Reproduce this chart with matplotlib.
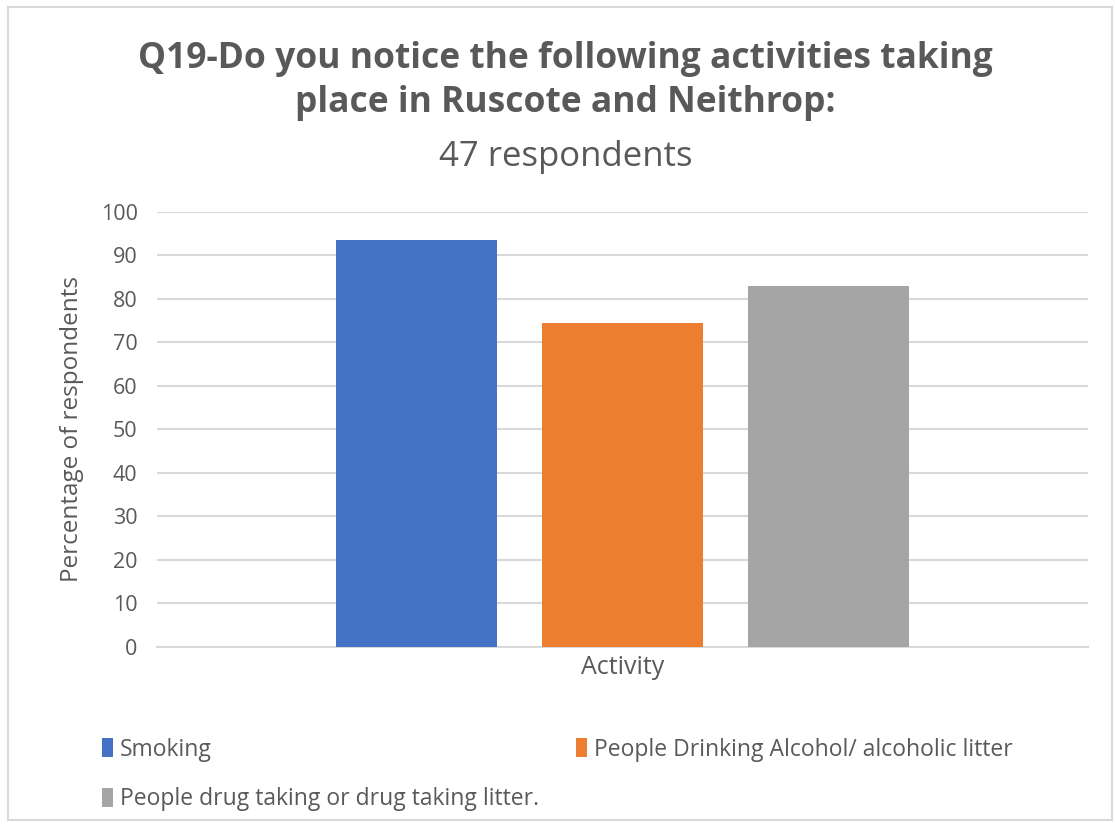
import matplotlib.pyplot as plt
from matplotlib.patches import Rectangle

activities = ["Smoking", "People Drinking Alcohol/ alcoholic litter",
              "People drug taking or drug taking litter."]
percent = [93.6, 74.5, 83.0]
colors = ["#4472C4", "#ED7D31", "#A5A5A5"]
yticks = [0, 10, 20, 30, 40, 50, 60, 70, 80, 90, 100]

plt.rcParams['font.family'] = ['Open Sans', 'DejaVu Sans']
txt = "#595959"

fig = plt.figure(figsize=(11.15, 8.27), dpi=100)
ax = fig.add_axes([0.1408, 0.2177, 0.835, 0.526])

xs = [-1, 0, 1]
bars = []
for x, v, c, name in zip(xs, percent, colors, activities):
    bars.append(ax.bar(x, v, width=0.786, color=c, label=name, zorder=3)[0])

ax.set_xlim(-2.26, 2.26)
ax.set_ylim(0, 100)
ax.set_yticks(yticks)
ax.set_xticks([])
ax.grid(axis='y', color="#d9d9d9", linewidth=1.5, zorder=0)
for s in ['top', 'right', 'left']:
    ax.spines[s].set_visible(False)
ax.spines['bottom'].set_color("#d9d9d9")
ax.spines['bottom'].set_linewidth(1.5)
ax.tick_params(axis='y', length=0, labelsize=15.5, labelcolor=txt, pad=14)

ax.set_ylabel("Percentage of respondents", fontsize=17.5, color=txt, labelpad=12)
ax.set_xlabel("Activity", fontsize=18, color=txt, labelpad=6)

fig.text(0.507, 0.902, "Q19-Do you notice the following activities taking\nplace in Ruscote and Neithrop:",
         ha='center', va='center', fontsize=25.5, fontweight='bold', color=txt, linespacing=1.32)
fig.text(0.507, 0.810, "47 respondents", ha='center', va='center', fontsize=25, color=txt)

# legend filled row by row
handles = [bars[0], bars[2], bars[1]]
labels = [activities[0], activities[2], activities[1]]
fig.legend(handles, labels, ncol=2, loc='upper left', bbox_to_anchor=(0.083, 0.119),
           frameon=False, fontsize=16.5, labelcolor=txt, handlelength=0.5, handleheight=0.9,
           handletextpad=0.3, columnspacing=1.6, labelspacing=1.1, borderaxespad=0)

fig.patches.append(Rectangle((0.007, 0.008), 0.99, 0.984, transform=fig.transFigure,
                             fill=False, edgecolor="#d9d9d9", linewidth=1.5))

fig.savefig("out.png", dpi=100)
